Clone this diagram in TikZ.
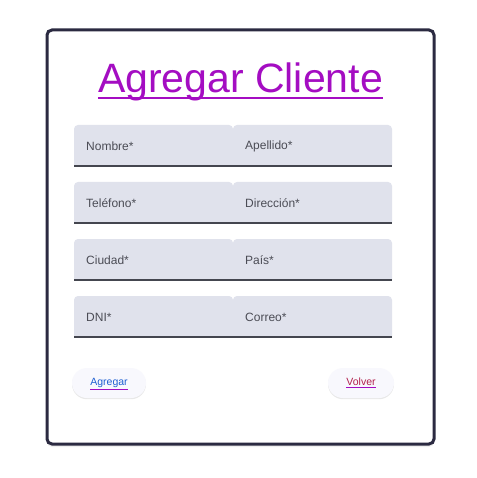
\documentclass[tikz,border=0pt]{standalone}
\usepackage{fontspec}
\setmainfont{Liberation Sans}
\usepackage{tikz}
\usetikzlibrary{positioning,shadows}

\definecolor{cardline}{HTML}{2B2A41}
\definecolor{titlecol}{HTML}{A40DC2}
\definecolor{fieldbg}{HTML}{E0E2EC}
\definecolor{fieldline}{HTML}{44464F}
\definecolor{labelcol}{HTML}{4B4C55}
\definecolor{btnbg}{HTML}{F8F8FD}
\definecolor{linkblue}{HTML}{1E5FD2}
\definecolor{linkred}{HTML}{B2204C}

\tikzset{
  card/.style={line width=3pt, draw=cardline, fill=white, rounded corners=5pt,
    drop shadow={opacity=.12, shadow xshift=0pt, shadow yshift=-3pt}},
  fieldlabel/.style={anchor=west, inner sep=0pt, text=labelcol, font=\fontsize{12}{14}\selectfont},
  pill/.style={fill=btnbg, rounded corners=15pt, minimum width=#1, minimum height=30pt,
    inner sep=0pt, text height=8pt, text depth=3pt, font=\fontsize{10.5}{12}\selectfont,
    drop shadow={opacity=.18, shadow xshift=0pt, shadow yshift=-1.2pt}},
}
\newcommand{\linktext}[2]{\color{titlecol}\underline{\textcolor{#1}{#2}}}

\begin{document}
\begin{tikzpicture}[x=1pt,y=-1pt]
  \useasboundingbox (0,0) rectangle (476,478);
  \fill[white] (0,0) rectangle (476,478);

  % card
  \path[card] (47,30) rectangle (434,444);

  % title
  \node (title) [anchor=base, inner sep=0pt, text=titlecol,
    font=\fontsize{41}{48}\selectfont] at (240.5,93) {Agregar Cliente};
  \draw[titlecol, line width=2.6pt]
    ([yshift=-5pt]title.base west) -- ([yshift=-5pt]title.base east);

  % fields
  \foreach \ya/\lname/\ltext/\rname/\rtext in {
      125/nombre/Nombre*/apellido/Apellido*,
      182/telefono/Teléfono*/direccion/Dirección*,
      239/ciudad/Ciudad*/pais/País*,
      296/dni/DNI*/correo/Correo*} {
    \foreach \xa/\xb in {74/233, 233/392} {
      \fill[fieldbg] (\xa,\ya+41) [rounded corners=4pt] -- (\xa,\ya)
        -- (\xb,\ya) [sharp corners] -- (\xb,\ya+41) -- cycle;
    }
    \draw[fieldline, line width=1.4pt] (74,\ya+41) -- (392,\ya+41);
    \node (\lname) [fieldlabel] at (86,\ya+21) {\ltext};
    \node (\rname) [fieldlabel] at (245,\ya+21) {\rtext};
  }

  % buttons
  \node (agregar) [pill=74pt] at (109,383) {\linktext{linkblue}{Agregar}};
  \node (volver) [pill=66pt] at (361,383) {\linktext{linkred}{Volver}};
\end{tikzpicture}
\end{document}
